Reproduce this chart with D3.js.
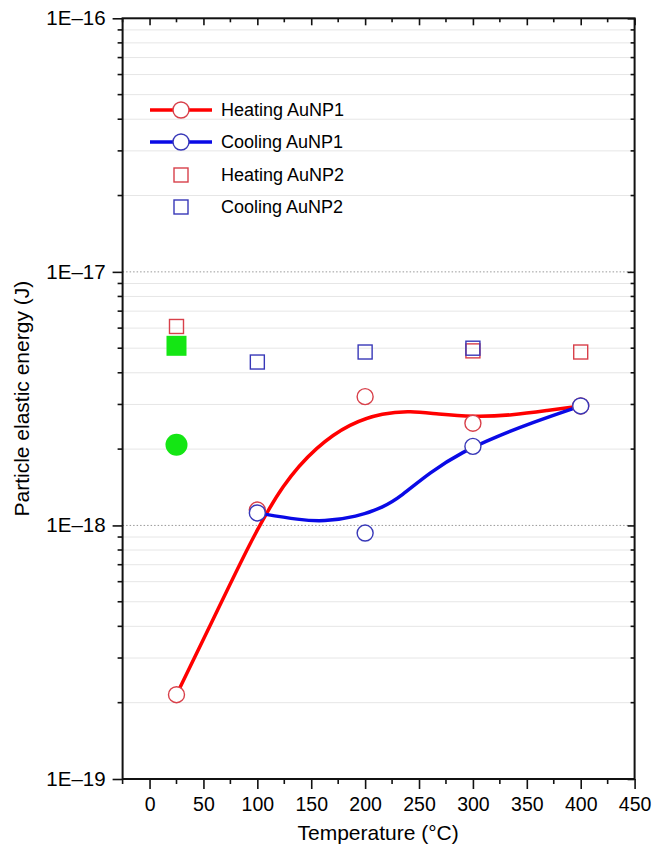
<!DOCTYPE html>
<html>
<head>
<meta charset="utf-8">
<script src="https://cdn.jsdelivr.net/npm/d3@7"></script>
<style>
  body { margin: 0; background: #fff; }
  text { font-family: "Liberation Sans", Arial, sans-serif; fill: #000; }
</style>
</head>
<body>
<svg id="chart" width="652" height="845"></svg>
<script>
// data
var tempTicks = [0, 50, 100, 150, 200, 250, 300, 350, 400, 450];
var tempMinor = [-25, 25, 75, 125, 175, 225, 275, 325, 375, 425];
var energyMajor = [1e-19, 1e-18, 1e-17, 1e-16];
var energyLabels = ["1E\u201319", "1E\u201318", "1E\u201317", "1E\u201316"];

var heat1T = [25, 100, 200, 300, 400];
var heat1E = [2.15e-19, 1.15e-18, 3.22e-18, 2.53e-18, 2.96e-18];
var cool1T = [100, 200, 300, 400];
var cool1E = [1.12e-18, 9.33e-19, 2.05e-18, 2.96e-18];

var heat2T = [25, 300, 400];
var heat2E = [6.09e-18, 4.88e-18, 4.83e-18];
var cool2T = [100, 200, 300];
var cool2E = [4.41e-18, 4.83e-18, 5.0e-18];

var greenSqT = [25], greenSqE = [5.11e-18];
var greenDotT = [25], greenDotE = [2.08e-18];

// smoothed fit curves
var heatFitT = [25, 62, 93, 124, 155, 186, 217, 242, 267, 300, 337, 369, 400];
var heatFitE = [2.15e-19, 4.52e-19, 8.55e-19, 1.47e-18, 2.05e-18, 2.53e-18, 2.78e-18, 2.83e-18, 2.75e-18, 2.68e-18, 2.72e-18, 2.84e-18, 2.96e-18];
var coolFitT = [100, 140, 161, 192, 217, 233, 260, 291, 322, 353, 400];
var coolFitE = [1.12e-18, 1.05e-18, 1.035e-18, 1.08e-18, 1.18e-18, 1.30e-18, 1.62e-18, 1.96e-18, 2.24e-18, 2.53e-18, 2.96e-18];

var legendNames = ["Heating AuNP1", "Cooling AuNP1", "Heating AuNP2", "Cooling AuNP2"];

var RED = "#ff0000", BLUE = "#0a0ae6";
var RED_MK = "#d8404a", BLUE_MK = "#3838b8";
var GREEN = "#14e614";

var svg = d3.select("#chart");
var pL = 122.6, pR = 634.6, pT = 18.3, pB = 779;

var x = d3.scaleLinear().domain([-25, 450]).range([pL, pR]);
var y = d3.scaleLog().domain([1e-19, 1e-16]).range([pB, pT]);

function zip(a, b) { return a.map(function(v, i) { return [v, b[i]]; }); }

// gridlines
var minorE = y.ticks().filter(function(v) {
  return energyMajor.every(function(m) { return Math.abs(v / m - 1) > 1e-6; });
});
svg.append("g").selectAll("line").data(minorE).enter().append("line")
  .attr("x1", pL).attr("x2", pR)
  .attr("y1", function(d) { return y(d); }).attr("y2", function(d) { return y(d); })
  .attr("stroke", "#e6e6e6").attr("stroke-width", 1);
svg.append("g").selectAll("line").data(energyMajor.slice(1, 3)).enter().append("line")
  .attr("x1", pL).attr("x2", pR)
  .attr("y1", function(d) { return y(d); }).attr("y2", function(d) { return y(d); })
  .attr("stroke", "#999").attr("stroke-width", 1).attr("stroke-dasharray", "1.5,2");

// axes
var labels = {};
energyMajor.forEach(function(v, i) { labels[v] = energyLabels[i]; });

var xAxis = d3.axisBottom(x).tickValues(tempTicks).tickSize(10).tickPadding(8).tickFormat(d3.format("d"));
var gx = svg.append("g").attr("transform", "translate(0," + pB + ")").call(xAxis);
gx.append("g").selectAll("line").data(tempMinor).enter().append("line")
  .attr("x1", function(d) { return x(d); }).attr("x2", function(d) { return x(d); })
  .attr("y1", 0).attr("y2", 5);

var yAxis = d3.axisLeft(y).tickValues(energyMajor).tickSize(10).tickPadding(7)
  .tickFormat(function(d) { return labels[d]; });
var gy = svg.append("g").attr("transform", "translate(" + pL + ",0)").call(yAxis);
gy.append("g").selectAll("line").data(minorE).enter().append("line")
  .attr("y1", function(d) { return y(d); }).attr("y2", function(d) { return y(d); })
  .attr("x1", 0).attr("x2", -5);

// top and right axes, ticks inward
var gt = svg.append("g").attr("transform", "translate(0," + pT + ")")
  .call(d3.axisBottom(x).tickValues(tempTicks).tickSize(7).tickFormat(""));
gt.append("g").selectAll("line").data(tempMinor).enter().append("line")
  .attr("x1", function(d) { return x(d); }).attr("x2", function(d) { return x(d); })
  .attr("y1", 0).attr("y2", 4);
var gr = svg.append("g").attr("transform", "translate(" + pR + ",0)")
  .call(d3.axisLeft(y).tickValues(energyMajor).tickSize(7).tickFormat(""));
gr.append("g").selectAll("line").data(minorE).enter().append("line")
  .attr("y1", function(d) { return y(d); }).attr("y2", function(d) { return y(d); })
  .attr("x1", 0).attr("x2", -4);

[gx, gy, gt, gr].forEach(function(g) {
  g.select(".domain").remove();
  g.selectAll("line").attr("stroke", "#111").attr("stroke-width", 1.6);
  g.selectAll("text").attr("font-family", "Liberation Sans, Arial, sans-serif").attr("fill", "#000");
});
gx.selectAll("text").attr("font-size", 19.5);
gy.selectAll("text").attr("font-size", 20.5);

svg.append("rect").attr("x", pL).attr("y", pT)
  .attr("width", pR - pL).attr("height", pB - pT)
  .attr("fill", "none").attr("stroke", "#111").attr("stroke-width", 2);

// axis titles
svg.append("text").attr("x", (pL + pR) / 2 - 0.5).attr("y", 840)
  .attr("text-anchor", "middle").attr("font-size", 21).text("Temperature (\u00b0C)");
svg.append("text").attr("transform", "translate(29," + ((pT + pB) / 2) + ") rotate(-90)")
  .attr("text-anchor", "middle").attr("font-size", 21).text("Particle elastic energy (J)");

// fit curves
var line = d3.line().x(function(d) { return x(d[0]); }).y(function(d) { return y(d[1]); })
  .curve(d3.curveBasis);
svg.append("path").datum(zip(heatFitT, heatFitE)).attr("d", line)
  .attr("fill", "none").attr("stroke", RED).attr("stroke-width", 3.5);
svg.append("path").datum(zip(coolFitT, coolFitE)).attr("d", line)
  .attr("fill", "none").attr("stroke", BLUE).attr("stroke-width", 3.5);

// squares
function squares(data, color, size, filled) {
  svg.append("g").selectAll("rect").data(data).enter().append("rect")
    .attr("x", function(d) { return x(d[0]) - size / 2; })
    .attr("y", function(d) { return y(d[1]) - size / 2; })
    .attr("width", size).attr("height", size)
    .attr("fill", filled ? color : "none")
    .attr("stroke", filled ? "none" : color).attr("stroke-width", 1.4);
}
squares(zip(heat2T, heat2E), RED_MK, 14, false);
squares(zip(cool2T, cool2E), BLUE_MK, 14, false);
squares(zip(greenSqT, greenSqE), GREEN, 20, true);

function circles(data, color, r, filled) {
  svg.append("g").selectAll("circle").data(data).enter().append("circle")
    .attr("cx", function(d) { return x(d[0]); })
    .attr("cy", function(d) { return y(d[1]); })
    .attr("r", r)
    .attr("fill", filled ? color : "#fff")
    .attr("stroke", filled ? "none" : color).attr("stroke-width", 1.4);
}
circles(zip(heat1T, heat1E), RED_MK, 8, false);
circles(zip(cool1T, cool1E), BLUE_MK, 8, false);
circles(zip(greenDotT, greenDotE), GREEN, 11, true);

// legend
var legY = [110, 142, 175, 207];
var lg = svg.append("g");
[0, 1].forEach(function(i) {
  var c = i === 0 ? RED : BLUE, mk = i === 0 ? RED_MK : BLUE_MK;
  lg.append("line").attr("x1", 150).attr("x2", 212).attr("y1", legY[i]).attr("y2", legY[i])
    .attr("stroke", c).attr("stroke-width", 3.5);
  lg.append("circle").attr("cx", 181).attr("cy", legY[i]).attr("r", 8)
    .attr("fill", "#fff").attr("stroke", mk).attr("stroke-width", 1.4);
});
[2, 3].forEach(function(i) {
  var mk = i === 2 ? RED_MK : BLUE_MK;
  lg.append("rect").attr("x", 181 - 7).attr("y", legY[i] - 7).attr("width", 14).attr("height", 14)
    .attr("fill", "none").attr("stroke", mk).attr("stroke-width", 1.4);
});
legendNames.forEach(function(n, i) {
  lg.append("text").attr("x", 221).attr("y", legY[i]).attr("dy", "0.35em")
    .attr("font-size", 18).text(n);
});
</script>
</body>
</html>
